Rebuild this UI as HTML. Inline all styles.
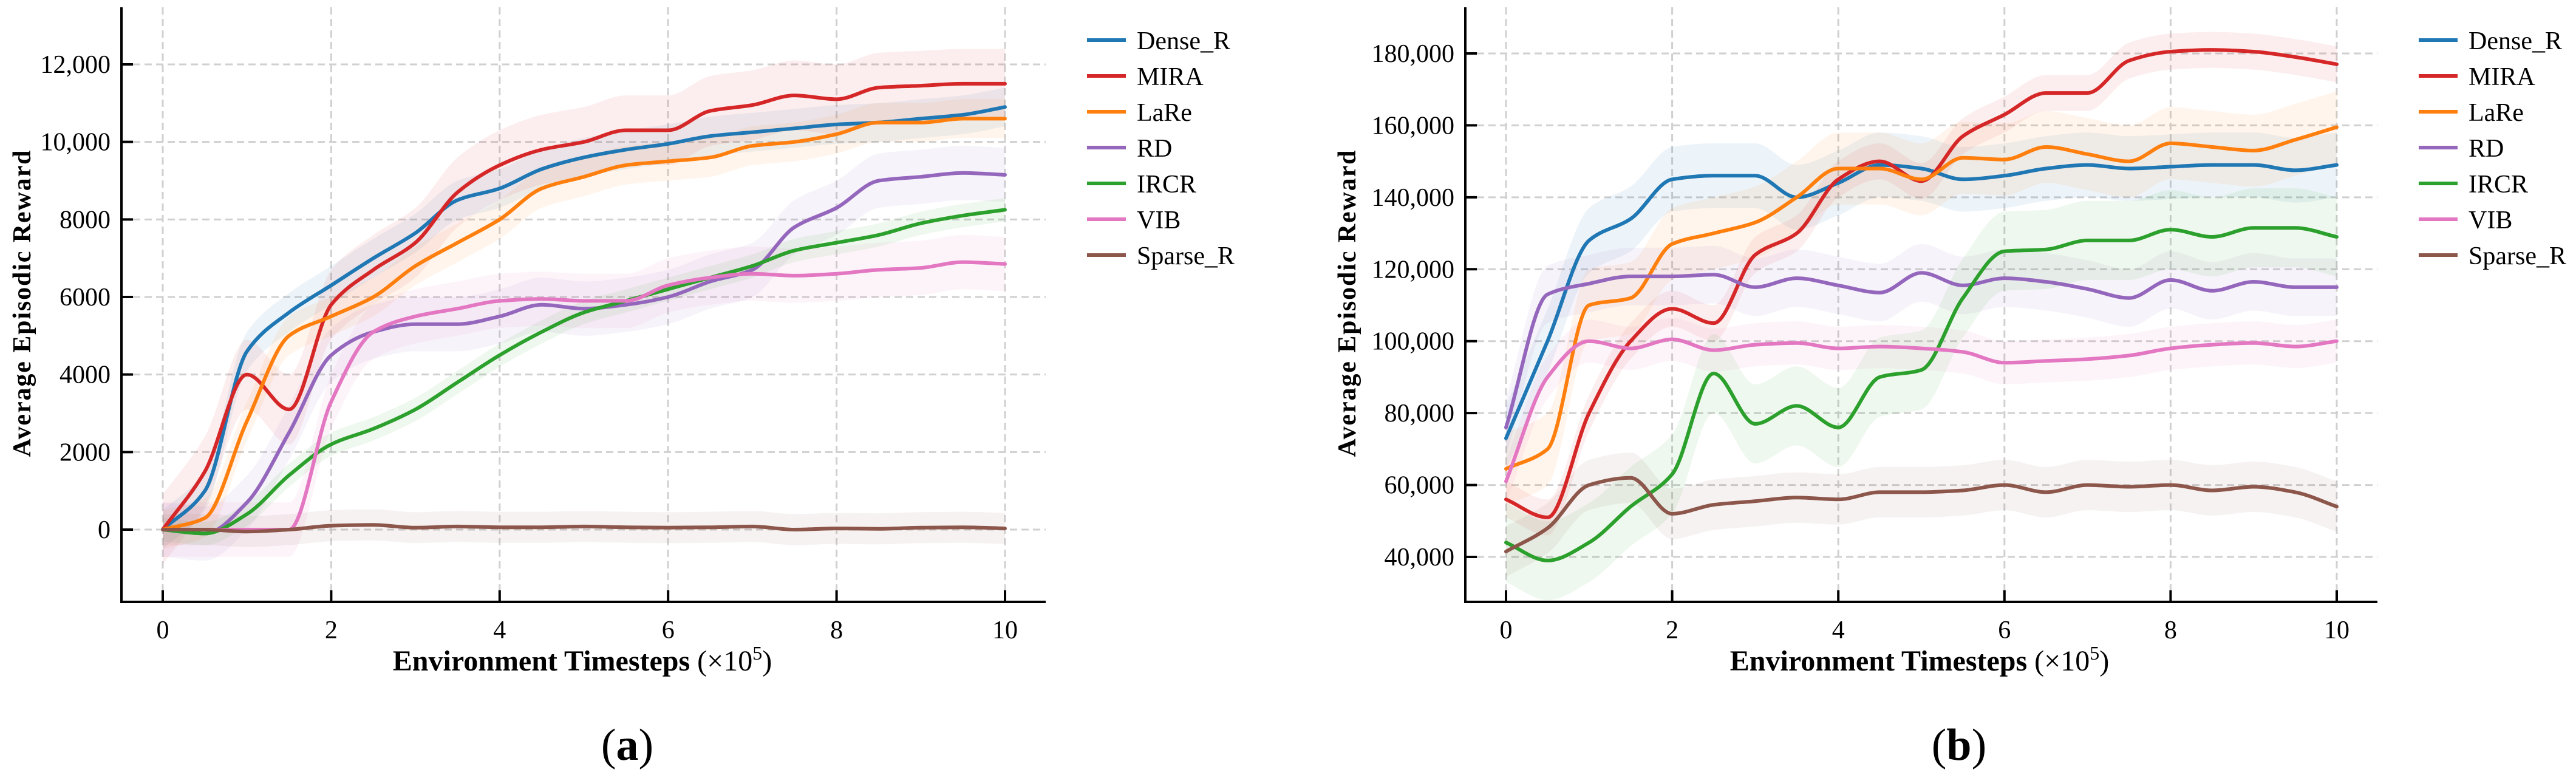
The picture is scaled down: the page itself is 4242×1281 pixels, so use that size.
<!DOCTYPE html>
<html><head><meta charset="utf-8"><style>
html,body{margin:0;padding:0;background:#fff;}
svg{display:block;font-family:"Liberation Serif",serif;}
</style></head><body>
<svg id="fig" width="4242" height="1281" viewBox="0 0 4242 1281" xmlns="http://www.w3.org/2000/svg"></svg>
<script>
const steps = [0,0.5,1,1.5,2,2.5,3,3.5,4,4.5,5,5.5,6,6.5,7,7.5,8,8.5,9,9.5,10];
const seriesNames = ["Dense_R","MIRA","LaRe","RD","IRCR","VIB","Sparse_R"];
const seriesColors = ["#1f77b4","#d62728","#ff7f0e","#9467bd","#2ca02c","#e377c2","#8c564b"];
const xTicks = [0,2,4,6,8,10];

// chart (a)
const aDense  = [0,1000,4600,5600,6300,7000,7650,8500,8800,9300,9600,9800,9950,10150,10250,10350,10450,10500,10600,10700,10900];
const aMIRA   = [0,1500,4000,3100,5800,6700,7400,8700,9400,9800,10000,10300,10300,10800,10950,11200,11100,11400,11450,11500,11500];
const aLaRe   = [0,300,2800,5000,5500,6000,6800,7400,8000,8800,9100,9400,9500,9600,9900,10000,10200,10500,10500,10600,10600];
const aRD     = [0,-100,700,2500,4500,5100,5300,5300,5500,5800,5700,5800,6000,6400,6700,7800,8300,9000,9100,9200,9150];
const aIRCR   = [0,-100,400,1400,2200,2600,3100,3800,4500,5100,5600,5900,6200,6500,6800,7200,7400,7600,7900,8100,8250];
const aVIB    = [0,0,0,0,3300,5100,5500,5700,5900,5950,5900,5900,6300,6500,6600,6550,6600,6700,6750,6900,6850];
const aSparse = [0,0,-50,0,100,120,50,80,60,60,80,60,50,60,80,0,30,20,50,60,30];
const aStd    = [500,900,500,700,300,700,400];
const aYTicks = [0,2000,4000,6000,8000,10000,12000];
const aYLabels = ["0","2000","4000","6000","8000","10,000","12,000"];

// chart (b)
const bDense  = [73000,100000,128000,134000,145000,146000,146000,140000,144000,149000,148000,145000,146000,148000,149000,148000,148500,149000,149000,147500,149000];
const bMIRA   = [56000,51000,80000,100000,109000,105000,124000,130000,145000,150000,144500,157000,163000,169000,169000,178000,180500,181000,180500,179000,177000];
const bLaRe   = [64500,70000,110000,112000,127000,130000,133000,140000,148000,148000,145000,151000,150500,154000,152000,150000,155000,154000,153000,156000,159500];
const bRD     = [76000,113000,116000,118000,118000,118500,115000,117500,115500,113500,119000,115500,117500,116500,114500,112000,117000,114000,116500,115000,115000];
const bIRCR   = [44000,39000,44000,54000,63000,91000,77000,82000,76000,90000,92000,112000,125000,125500,128000,128000,131000,129000,131500,131500,129000];
const bVIB    = [61000,90000,100000,98000,100500,97500,99000,99500,98000,98500,98000,97000,94000,94500,95000,96000,98000,99000,99500,98500,100000];
const bSparse = [41500,48000,60000,62000,52000,54500,55500,56500,56000,58000,58000,58500,60000,58000,60000,59500,60000,58500,59500,58000,54000];
const bStd    = [9000,5000,10000,8000,11000,6000,7000];
const bYTicks = [40000,60000,80000,100000,120000,140000,160000,180000];
const bYLabels = ["40,000","60,000","80,000","100,000","120,000","140,000","160,000","180,000"];

const NS = "http://www.w3.org/2000/svg";
const svg = document.getElementById("fig");
function mk(tag, attrs, parent){ const e=document.createElementNS(NS,tag); for(const k in attrs) e.setAttribute(k,attrs[k]); (parent||svg).appendChild(e); return e; }

// monotone cubic (Fritsch-Carlson) to avoid overshoot
function smoothPath(pts, cont){
  const n=pts.length;
  const dx=[],dy=[],m=[];
  for(let i=0;i<n-1;i++){dx.push(pts[i+1][0]-pts[i][0]);dy.push(pts[i+1][1]-pts[i][1]);m.push(dy[i]/dx[i]);}
  const t=new Array(n);
  t[0]=m[0]; t[n-1]=m[n-2];
  for(let i=1;i<n-1;i++){
    if(m[i-1]*m[i]<=0) t[i]=0;
    else { const w1=2*dx[i]+dx[i-1], w2=dx[i]+2*dx[i-1]; t[i]=(w1+w2)/(w1/m[i-1]+w2/m[i]); }
  }
  let d = (cont?"L":"M")+pts[0][0].toFixed(1)+","+pts[0][1].toFixed(1);
  for(let i=0;i<n-1;i++){
    const h=dx[i]/3;
    d += "C"+(pts[i][0]+h).toFixed(1)+","+(pts[i][1]+t[i]*h).toFixed(1)+" "+(pts[i+1][0]-h).toFixed(1)+","+(pts[i+1][1]-t[i+1]*h).toFixed(1)+" "+pts[i+1][0].toFixed(1)+","+pts[i+1][1].toFixed(1);
  }
  return d;
}

function drawChart(cfg){
  const g = mk("g",{});
  
  
  const xs = v => cfg.x0 + (v/10)*(cfg.x10-cfg.x0);
  const ys = v => cfg.yA + (v-cfg.vA)/(cfg.vB-cfg.vA)*(cfg.yB-cfg.yA);
  xTicks.forEach(t=>{
    const l=mk("line",{x1:xs(t),x2:xs(t),y1:cfg.top,y2:cfg.bottom,stroke:"#d0d0d0","stroke-width":3,"stroke-dasharray":"12,7"},g);
    
    
  });
  cfg.yTicks.forEach(t=>{
    const l=mk("line",{x1:cfg.left,x2:cfg.right,y1:ys(t),y2:ys(t),stroke:"#d0d0d0","stroke-width":3,"stroke-dasharray":"12,7"},g);
    
    
  });
  cfg.series.forEach((s,i)=>{
    const up = steps.map((t,j)=>[xs(t),ys(s[j]+cfg.std[i])]);
    const lo = steps.map((t,j)=>[xs(t),ys(s[j]-cfg.std[i])]).reverse().map(p=>[-p[0],p[1]]);
    const loPath = smoothPath(lo,true).replace(/(-?\d+\.?\d*),(-?\d+\.?\d*)/g,(mm,a,b)=>(-parseFloat(a)).toFixed(1)+","+b);
    const d = smoothPath(up)+loPath+"Z";
    const b=mk("path",{d:d,fill:seriesColors[i],"fill-opacity":0.08,stroke:"none"},g);
    
    
  });
  cfg.series.forEach((s,i)=>{
    const pts = steps.map((t,j)=>[xs(t),ys(s[j])]);
    const p=mk("path",{d:smoothPath(pts),fill:"none",stroke:seriesColors[i],"stroke-width":6,"stroke-linejoin":"round","stroke-linecap":"round"},g);
    
    
  });
  const sp1=mk("line",{x1:cfg.left,x2:cfg.left,y1:cfg.top,y2:cfg.bottom+2,stroke:"#000","stroke-width":4},g);
  
  
  const sp2=mk("line",{x1:cfg.left-2,x2:cfg.right,y1:cfg.bottom,y2:cfg.bottom,stroke:"#000","stroke-width":4},g);
  
  
  xTicks.forEach(t=>{
    const tk=mk("line",{x1:xs(t),x2:xs(t),y1:cfg.bottom,y2:cfg.bottom-19,stroke:"#000","stroke-width":4},g);
    
    
    const tx=mk("text",{x:xs(t),y:cfg.bottom+60,"font-size":42,"text-anchor":"middle",fill:"#000"},g);
    tx.textContent=String(t);
    
    
  });
  cfg.yTicks.forEach((t,i)=>{
    const tk=mk("line",{x1:cfg.left,x2:cfg.left+19,y1:ys(t),y2:ys(t),stroke:"#000","stroke-width":4},g);
    
    
    const tx=mk("text",{x:cfg.left-18,y:ys(t)+14,"font-size":42,"text-anchor":"end",fill:"#000"},g);
    tx.textContent=cfg.yLabels[i];
    
    
  });
  const yt=mk("text",{x:0,y:0,"font-size":42,"font-weight":"bold","text-anchor":"middle",transform:"translate("+(cfg.ylabX)+",500) rotate(-90)",textLength:505,lengthAdjust:"spacing"},g);
  yt.textContent="Average Episodic Reward";
  
  
  const xt=mk("text",{x:cfg.xlabX,y:1104,"font-size":48,"text-anchor":"middle"},g);
  
  
  const b1=mk("tspan",{"font-weight":"bold"},xt); b1.textContent="Environment Timesteps ";
  const b2=mk("tspan",{},xt); b2.textContent="(×10";
  const b3=mk("tspan",{dy:-18,"font-size":32},xt); b3.textContent="5";
  const b4=mk("tspan",{dy:18},xt); b4.textContent=")";
  seriesNames.forEach((n,i)=>{
    const y = 66 + i*59;
    const lg=mk("g",{},g);
    
    
    mk("line",{x1:cfg.legX,x2:cfg.legX+64,y1:y,y2:y,stroke:seriesColors[i],"stroke-width":6},lg);
    const t=mk("text",{x:cfg.legX+82,y:y+15,"font-size":42},lg);
    t.textContent=n;
  });
  const pl=mk("text",{x:cfg.capX,y:1251,"font-size":74,"text-anchor":"middle"},g);
  
  
  const p1=mk("tspan",{},pl); p1.textContent="(";
  const p2=mk("tspan",{"font-weight":"bold"},pl); p2.textContent=cfg.cap;
  const p3=mk("tspan",{},pl); p3.textContent=")";
}

drawChart({name:"chart-a",x0:268,x10:1655,left:200,right:1722,top:12,bottom:991,
  yA:872,vA:0,yB:106,vB:12000,yTicks:aYTicks,yLabels:aYLabels,
  series:[aDense,aMIRA,aLaRe,aRD,aIRCR,aVIB,aSparse],std:aStd,
  ylabX:50,xlabX:959,legX:1790,capX:1033,cap:"a"});
drawChart({name:"chart-b",x0:2480,x10:3848,left:2413,right:3915,top:12,bottom:991,
  yA:917,vA:40000,yB:88,vB:180000,yTicks:bYTicks,yLabels:bYLabels,
  series:[bDense,bMIRA,bLaRe,bRD,bIRCR,bVIB,bSparse],std:bStd,
  ylabX:2232,xlabX:3161,legX:3983,capX:3226,cap:"b"});
</script>
</body></html>
